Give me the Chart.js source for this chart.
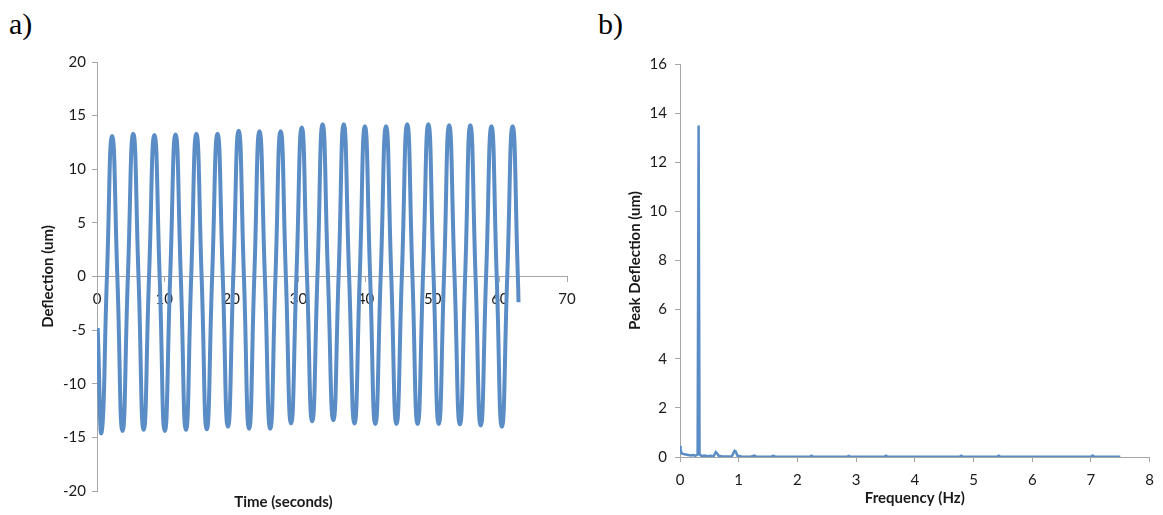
<!DOCTYPE html>
<html>
<head>
<meta charset="utf-8">
<script src="https://cdn.jsdelivr.net/npm/chart.js@4.4.0/dist/chart.umd.min.js"></script>
<style>
  body { margin: 0; background: #fff; }
  #wrap { position: relative; width: 1163px; height: 515px; overflow: hidden; }
  .panel { position: absolute; top: 0; height: 515px; }
  .tag { position: absolute; font-family: "Liberation Serif", serif; font-size: 30px; color: #000; }
</style>
</head>
<body>
<div id="wrap">
  <div class="tag" style="left:9px; top:7px;">a)</div>
  <div class="tag" style="left:598px; top:7px;">b)</div>
  <div class="panel" style="left:0; width:600px;"><canvas id="timeChart" width="600" height="515"></canvas></div>
  <div class="panel" style="left:590px; width:573px;"><canvas id="freqChart" width="573" height="515"></canvas></div>
</div>
<script>
// a) deflection vs time: start, troughs, zero crossings and peaks
const timeSec = [0.1, 0.7, 1.48, 2.25, 3.03, 3.8, 4.6, 5.4, 6.18, 6.95, 7.75, 8.55, 9.33, 10.1,
  10.9, 11.7, 12.48, 13.25, 14.03, 14.8, 15.58, 16.35, 17.15, 17.95, 18.73, 19.5, 20.3, 21.1,
  21.88, 22.65, 23.43, 24.2, 25.0, 25.8, 26.58, 27.35, 28.13, 28.9, 29.7, 30.5, 31.28, 32.05,
  32.83, 33.6, 34.4, 35.2, 35.98, 36.75, 37.55, 38.35, 39.13, 39.9, 40.68, 41.45, 42.25, 43.05,
  43.83, 44.6, 45.4, 46.2, 46.98, 47.75, 48.55, 49.35, 50.13, 50.9, 51.68, 52.45, 53.25, 54.05,
  54.83, 55.6, 56.38, 57.15, 57.95, 58.75, 59.53, 60.3, 61.1, 61.9, 62.68, 62.78];
const deflectionUm = [-4.8, -14.5,
  0, 13.1, 0, -14.4,    0, 13.3, 0, -14.3,    0, 13.2, 0, -14.4,    0, 13.25, 0, -14.3,
  0, 13.3, 0, -14.25,   0, 13.3, 0, -14.0,    0, 13.6, 0, -14.2,    0, 13.55, 0, -14.2,
  0, 13.55, 0, -13.7,   0, 13.9, 0, -13.5,    0, 14.2, 0, -13.4,    0, 14.2, 0, -13.7,
  0, 14.0, 0, -13.75,   0, 14.0, 0, -13.75,   0, 14.2, 0, -13.75,   0, 14.2, 0, -13.75,
  0, 14.1, 0, -13.8,    0, 14.1, 0, -13.9,    0, 14.0, 0, -14.0,
  0, 14.0, 0, -2.4];

// b) spectrum
const freqHz = [0, 0.01, 0.03, 0.06, 0.1, 0.14, 0.18, 0.22, 0.26, 0.3, 0.317, 0.333, 0.37, 0.42,
  0.47, 0.52, 0.57, 0.61, 0.63, 0.66, 0.72, 0.8, 0.88, 0.93, 0.95, 0.98, 1.05, 1.2, 1.27, 1.3,
  1.4, 1.55, 1.59, 1.63, 2.0, 2.21, 2.24, 2.27, 2.6, 2.85, 2.87, 2.9, 3.3, 3.48, 3.51, 3.54,
  4.2, 4.76, 4.79, 4.82, 5.1, 5.4, 5.43, 5.46, 6.2, 7.0, 7.03, 7.06, 7.5];
const peakDeflection = [0.45, 0.3, 0.14, 0.12, 0.1, 0.08, 0.06, 0.08, 0.05, 0.1, 13.5, 0.1, 0.04, 0.06,
  0.03, 0.05, 0.02, 0.2, 0.15, 0.05, 0.02, 0.02, 0.02, 0.25, 0.22, 0.05, 0.02, 0.01, 0.06, 0.02,
  0.01, 0.01, 0.05, 0.01, 0.01, 0.01, 0.05, 0.01, 0.01, 0.01, 0.04, 0.01, 0.01, 0.01, 0.05, 0.01,
  0.01, 0.01, 0.05, 0.01, 0.01, 0.01, 0.05, 0.01, 0.01, 0.01, 0.06, 0.01, 0.01];

const lineBlue = '#5a8dc6';
const axisGrey = '#a6a6a6';
const textColor = '#1a1a1a';
const uiFont = 'Lato, "Open Sans", sans-serif';

function toPoints(xs, ys) {
    return xs.map((x, i) => ({ x: x, y: ys[i] }));
}

function axisStyle(min, max, step, tickPad) {
    return {
        type: 'linear',
        min: min,
        max: max,
        ticks: { stepSize: step, color: textColor, padding: tickPad, font: { family: uiFont, size: 15 } },
        grid: { drawOnChartArea: false, drawTicks: true, tickLength: 5, color: axisGrey },
        border: { color: axisGrey, width: 1 }
    };
}

function titleStyle(text, padding) {
    return {
        display: true,
        text: text,
        color: textColor,
        padding: padding,
        font: { family: uiFont, size: 15, weight: 'bold' }
    };
}

Chart.defaults.animation = false;

// Time domain plot - x axis crosses at zero and its labels sit over the trace
const timeX = axisStyle(0, 70, 10, 9);
timeX.position = { y: 0 };
timeX.z = 1;
const timeY = axisStyle(-20, 20, 5, 6);
timeY.title = titleStyle('Deflection (um)', { top: 39, bottom: 0 });
timeY.afterFit = scale => { scale.width = 97; };

new Chart(document.getElementById('timeChart'), {
    type: 'line',
    data: {
        datasets: [{
            data: toPoints(timeSec, deflectionUm),
            borderColor: lineBlue,
            borderWidth: 4,
            pointRadius: 0,
            tension: 0.55,
            fill: false
        }]
    },
    options: {
        responsive: false,
        devicePixelRatio: 1,
        layout: { padding: { left: 0, top: 62, right: 33, bottom: 0 } },
        plugins: {
            legend: { display: false },
            tooltip: { enabled: false },
            title: Object.assign(titleStyle('Time (seconds)', { top: 2, bottom: 4 }), { position: 'bottom' })
        },
        scales: { x: timeX, y: timeY }
    }
});

// Frequency domain plot
const freqX = axisStyle(0, 8, 1, 9);
freqX.title = titleStyle('Frequency (Hz)', { top: 4, bottom: 8 });
freqX.afterFit = scale => { scale.height = 58; };
const freqY = axisStyle(0, 16, 2, 8);
freqY.title = titleStyle('Peak Deflection (um)', { top: 36, bottom: 0 });
freqY.afterFit = scale => { scale.width = 90; };

new Chart(document.getElementById('freqChart'), {
    type: 'line',
    data: {
        datasets: [{
            data: toPoints(freqHz, peakDeflection),
            borderColor: lineBlue,
            borderWidth: 2.5,
            pointRadius: 0,
            tension: 0,
            fill: false
        }]
    },
    options: {
        responsive: false,
        devicePixelRatio: 1,
        layout: { padding: { left: 0, top: 64, right: 12, bottom: 0 } },
        plugins: { legend: { display: false }, tooltip: { enabled: false } },
        scales: { x: freqX, y: freqY }
    }
});
</script>
</body>
</html>
